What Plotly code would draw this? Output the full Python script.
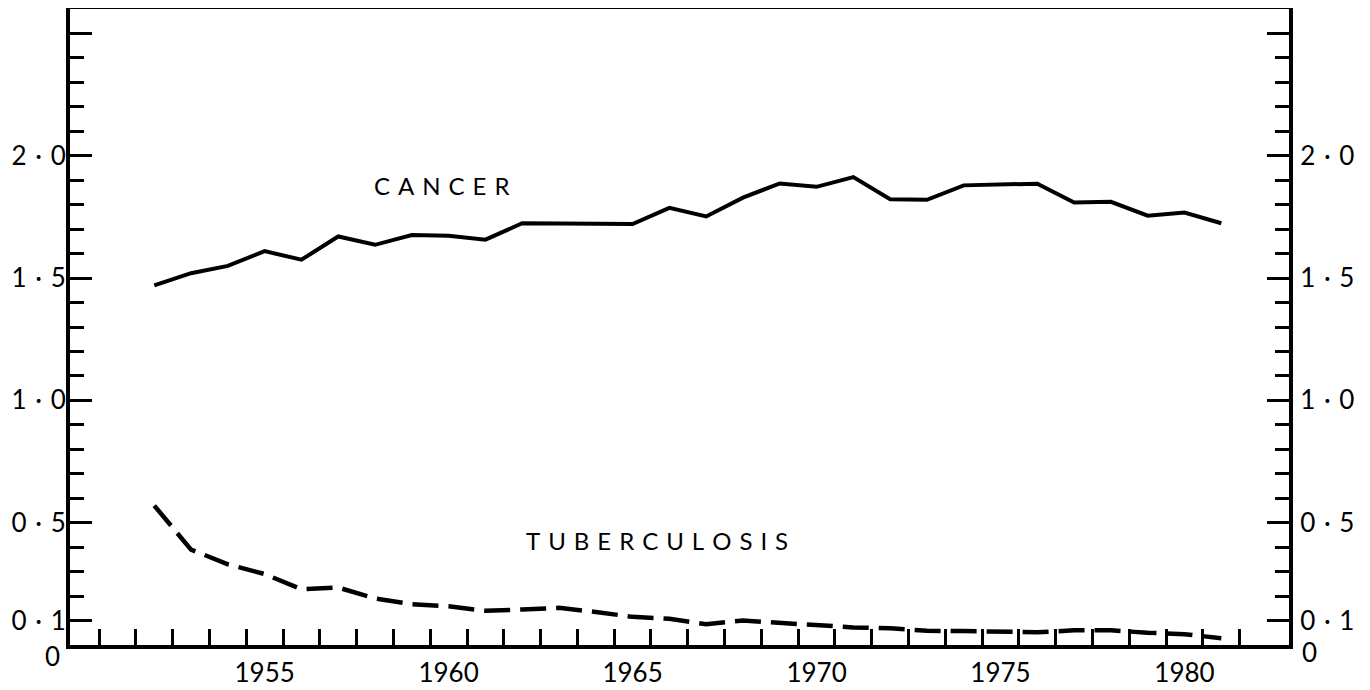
import plotly.graph_objects as go

years = list(range(1952, 1982))
cancer = [1.47, 1.52, 1.55, 1.61, 1.575, 1.67, 1.636, 1.676, 1.673, 1.657,
          1.724, 1.723, 1.722, 1.721, 1.787, 1.752, 1.829, 1.887, 1.873, 1.913,
          1.822, 1.820, 1.879, 1.883, 1.886, 1.809, 1.812, 1.755, 1.768, 1.724]
tuberculosis = [0.57, 0.39, 0.33, 0.29, 0.228, 0.235, 0.19, 0.167, 0.158, 0.14,
                0.145, 0.152, 0.135, 0.115, 0.107, 0.085, 0.10, 0.09, 0.08, 0.072,
                0.068, 0.058, 0.057, 0.054, 0.052, 0.06, 0.06, 0.05, 0.044, 0.028]

year_labels = [1955, 1960, 1965, 1970, 1975, 1980]
year_bounds = [y + 0.5 for y in range(1950, 1982)]
y_major_vals = [0.1, 0.5, 1.0, 1.5, 2.0, 2.5]
SP = "\u2004"
y_major_text = [f"0{SP}·{SP}1", f"0{SP}·{SP}5", f"1{SP}·{SP}0",
                f"1{SP}·{SP}5", f"2{SP}·{SP}0", ""]

FONT = "Lato"
BLACK = "#000000"

fig = go.Figure()
fig.add_trace(go.Scatter(x=years, y=cancer, mode="lines",
                         line=dict(color=BLACK, width=4), showlegend=False,
                         hoverinfo="skip"))
fig.add_trace(go.Scatter(x=years, y=tuberculosis, mode="lines",
                         line=dict(color=BLACK, width=4.5, dash="26px,10px"),
                         showlegend=False, hoverinfo="skip"))
fig.add_trace(go.Scatter(x=years, y=cancer, yaxis="y2", mode="lines",
                         line=dict(color="rgba(0,0,0,0)", width=0), showlegend=False,
                         hoverinfo="skip"))

yaxis_common = dict(
    range=[0, 2.6], showgrid=False, zeroline=False, showline=True, automargin=False,
    linecolor=BLACK, linewidth=4, ticks="inside", ticklen=22, tickwidth=3,
    tickcolor=BLACK, tickmode="array", tickvals=y_major_vals, ticktext=y_major_text,
    tickfont=dict(family=FONT, size=26, color=BLACK), ticklabelstandoff=-5,
    minor=dict(ticks="inside", ticklen=14, tickwidth=3, tickcolor=BLACK,
               dtick=0.1, tick0=0, showgrid=False),
)

fig.update_layout(
    width=1362, height=682,
    margin=dict(l=62, r=81, t=1, b=45, autoexpand=False),
    paper_bgcolor="white", plot_bgcolor="white",
    xaxis=dict(
        range=[1949.71, 1982.84], showgrid=False, zeroline=False, showline=True,
        automargin=False,
        mirror=True, linecolor=BLACK, linewidth=4,
        tickmode="array", tickvals=year_labels, ticktext=[str(y) for y in year_labels],
        ticks="inside", ticklen=1, tickcolor="rgba(0,0,0,0)",
        tickfont=dict(family=FONT, size=26, color=BLACK), ticklabelstandoff=2,
        minor=dict(ticks="inside", ticklen=16, tickwidth=3, tickcolor=BLACK,
                   tickmode="array", tickvals=year_bounds, showgrid=False),
    ),
    yaxis=yaxis_common,
    yaxis2=dict(yaxis_common, overlaying="y", side="right", anchor="x",
                ticklabelstandoff=2),
    annotations=[
        dict(text=SP.join("CANCER"), x=1959.82, y=1.878,
             xref="x", yref="y", showarrow=False,
             font=dict(family=FONT, size=24, color=BLACK)),
        dict(text=SP.join("TUBERCULOSIS"), x=1965.66, y=0.427,
             xref="x", yref="y", showarrow=False,
             font=dict(family=FONT, size=24, color=BLACK)),
        dict(text="0", x=0, y=0, xref="paper", yref="y", xanchor="right",
             xshift=-8, yshift=-11, showarrow=False,
             font=dict(family=FONT, size=26, color=BLACK)),
        dict(text="0", x=1, y=0, xref="paper", yref="y", xanchor="left",
             xshift=11, yshift=-7, showarrow=False,
             font=dict(family=FONT, size=26, color=BLACK)),
    ],
)

fig.write_html("out.html")
